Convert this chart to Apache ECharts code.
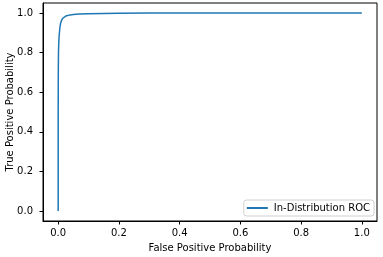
<!DOCTYPE html>
<html>
<head>
<meta charset="utf-8">
<script src="https://cdn.jsdelivr.net/npm/echarts@6/dist/echarts.min.js"></script>
<style>html,body{margin:0;padding:0;background:#fff;}#c{width:383px;height:257px;}</style>
</head>
<body>
<div id="c"></div>
<script>
const fpr = [0, 0, 0.0005, 0.001, 0.002, 0.003, 0.004, 0.006, 0.008, 0.011, 0.015, 0.02, 0.025, 0.03, 0.04, 0.05, 0.07, 0.1, 0.15, 0.2, 0.3, 0.4, 0.6, 0.8, 1.0];
const tpr = [0, 0.5, 0.72, 0.8, 0.85, 0.88, 0.9, 0.93, 0.948, 0.962, 0.973, 0.98, 0.984, 0.987, 0.99, 0.992, 0.994, 0.996, 0.9975, 0.998, 0.999, 0.9995, 1.0, 1.0, 1.0];
const xTicks = [0, 0.2, 0.4, 0.6, 0.8, 1.0];
const yTicks = [0, 0.2, 0.4, 0.6, 0.8, 1.0];
const seriesName = 'In-Distribution ROC';
const xTitle = 'False Positive Probability';
const yTitle = 'True Positive Probability';

const chart = echarts.init(document.getElementById('c'), null, {renderer: 'canvas'});
const font = 'DejaVu Sans';
const axisCommon = {
  type: 'value', min: -0.05, max: 1.05,
  axisLine: {show: true, onZero: false, lineStyle: {color: '#000', width: 1}},
  splitLine: {show: false},
  nameLocation: 'middle',
  nameMoveOverlap: false,
  nameTextStyle: {fontFamily: font, fontSize: 10, color: '#000'}
};
chart.setOption({
  animation: false,
  grid: {left: 43, right: 6, top: 3, bottom: 36, show: true, borderColor: '#000', borderWidth: 1,
    containLabel: false, outerBoundsMode: 'none'},
  xAxis: Object.assign({}, axisCommon, {
    name: xTitle, nameGap: 22,
    axisTick: {show: true, length: 3.5, lineStyle: {color: '#000'}, customValues: xTicks},
    axisLabel: {fontFamily: font, fontSize: 10, color: '#000', margin: 7, customValues: xTicks,
      formatter: v => v.toFixed(1)}
  }),
  yAxis: Object.assign({}, axisCommon, {
    name: yTitle, nameGap: 28,
    axisTick: {show: true, length: 3.5, lineStyle: {color: '#000'}, customValues: yTicks},
    axisLabel: {fontFamily: font, fontSize: 10, color: '#000', margin: 10, customValues: yTicks,
      formatter: v => v.toFixed(1)}
  }),
  legend: {
    right: 9, bottom: 41,
    backgroundColor: 'rgba(255,255,255,0.8)',
    borderColor: '#d0d0d0', borderWidth: 1, borderRadius: 3,
    padding: [3, 4, 3, 3],
    itemWidth: 21, itemHeight: 2, itemGap: 5,
    icon: 'rect',
    textStyle: {fontFamily: font, fontSize: 10, color: '#000', padding: [0, 0, 0, 1]},
    data: [seriesName]
  },
  series: [{
    name: seriesName, type: 'line', symbol: 'none',
    lineStyle: {color: '#1f77b4', width: 1.5},
    itemStyle: {color: '#1f77b4'},
    data: fpr.map((x, i) => [x, tpr[i]])
  }]
});
</script>
</body>
</html>
